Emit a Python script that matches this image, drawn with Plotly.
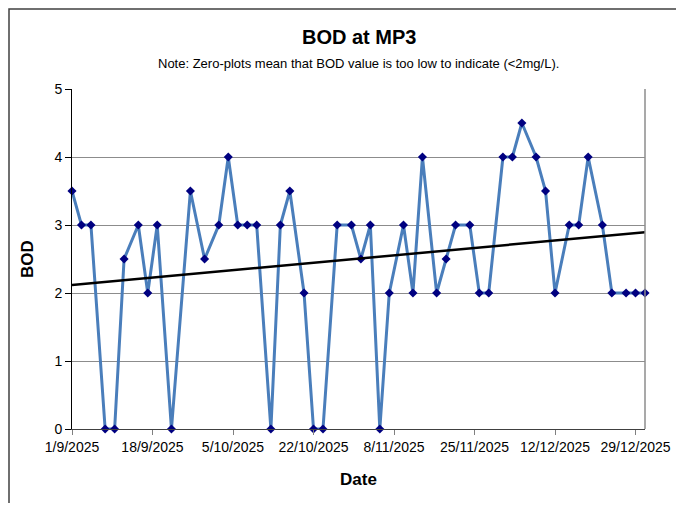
import numpy as np
import pandas as pd
import plotly.graph_objects as go

dates = ["2025-09-01", "2025-09-03", "2025-09-05", "2025-09-08", "2025-09-10", "2025-09-12",
         "2025-09-15", "2025-09-17", "2025-09-19", "2025-09-22", "2025-09-26", "2025-09-29",
         "2025-10-02", "2025-10-04", "2025-10-06", "2025-10-08", "2025-10-10", "2025-10-13",
         "2025-10-15", "2025-10-17", "2025-10-20", "2025-10-22", "2025-10-24", "2025-10-27",
         "2025-10-30", "2025-11-01", "2025-11-03", "2025-11-05", "2025-11-07", "2025-11-10",
         "2025-11-12", "2025-11-14", "2025-11-17", "2025-11-19", "2025-11-21", "2025-11-24",
         "2025-11-26", "2025-11-28", "2025-12-01", "2025-12-03", "2025-12-05", "2025-12-08",
         "2025-12-10", "2025-12-12", "2025-12-15", "2025-12-17", "2025-12-19", "2025-12-22",
         "2025-12-24", "2025-12-27", "2025-12-29", "2025-12-31"]
bod = [3.5, 3, 3, 0, 0, 2.5,
       3, 2, 3, 0, 3.5, 2.5,
       3, 4, 3, 3, 3, 0,
       3, 3.5, 2, 0, 0, 3,
       3, 2.5, 3, 0, 2, 3,
       2, 4, 2, 2.5, 3, 3,
       2, 2, 4, 4, 4.5, 4,
       3.5, 2, 3, 3, 4, 3,
       2, 2, 2, 2]

tick_vals = ["2025-09-01", "2025-09-18", "2025-10-05", "2025-10-22",
             "2025-11-08", "2025-11-25", "2025-12-12", "2025-12-29"]
tick_text = ["1/9/2025", "18/9/2025", "5/10/2025", "22/10/2025",
             "8/11/2025", "25/11/2025", "12/12/2025", "29/12/2025"]
y_ticks = [0, 1, 2, 3, 4, 5]

d = pd.to_datetime(dates)
t = (d - d[0]).days.values.astype(float)
slope, intercept = np.polyfit(t, np.array(bod), 1)
x_start = pd.Timestamp("2025-09-01")
x_end = pd.Timestamp("2025-12-31")
trend_x = [x_start, x_end]
trend_y = [intercept + slope * (xx - d[0]).days for xx in trend_x]

FONT = "Liberation Sans, Arial, sans-serif"

fig = go.Figure()
fig.add_trace(go.Scatter(
    x=d, y=bod, mode="lines+markers",
    line=dict(color="#4A7EBB", width=3),
    marker=dict(symbol="diamond", size=7, color="#000080"),
    cliponaxis=False, showlegend=False,
))
fig.add_trace(go.Scatter(
    x=trend_x, y=trend_y, mode="lines",
    line=dict(color="black", width=2.5),
    showlegend=False, hoverinfo="skip",
))

OFF = 8  # page body margin
W, H = 668, 495
L, T = 72 - OFF, 89 - OFF
R = W - (645 - OFF)
B = H - (429 - OFF)
pw, ph = W - L - R, H - T - B

def px(x):
    return (x - OFF - L) / pw

def py(y):
    return 1 + (T - (y - OFF)) / ph

fig.update_layout(
    width=W, height=H,
    margin=dict(l=L, r=R, t=T, b=B, autoexpand=False),
    paper_bgcolor="white", plot_bgcolor="white",
    font=dict(family=FONT, color="black"),
    xaxis=dict(
        type="date", range=[x_start, x_end], automargin=False,
        tickvals=tick_vals, ticktext=tick_text,
        tickfont=dict(size=14, family=FONT, color="black"),
        showgrid=False, zeroline=False,
        showline=True, linecolor="#404040", linewidth=1,
        ticks="outside", ticklen=5, tickcolor="#808080",
    ),
    yaxis=dict(
        range=[0, 5], tickvals=y_ticks, automargin=False,
        tickfont=dict(size=14, family=FONT, color="black"),
        showgrid=True, gridcolor="#8C8C8C", gridwidth=1,
        zeroline=False,
        showline=True, linecolor="black", linewidth=1,
        ticks="outside", ticklen=6, tickcolor="black",
    ),
    annotations=[
        dict(text="<b>BOD at MP3</b>", xref="paper", yref="paper",
             x=0.5, y=py(37), showarrow=False, yanchor="middle",
             font=dict(size=20, family=FONT, color="black")),
        dict(text="Note: Zero-plots mean that BOD value is too low to indicate (<2mg/L).",
             xref="paper", yref="paper", x=0.5, y=py(63), showarrow=False,
             yanchor="middle", font=dict(size=13, family=FONT, color="black")),
        dict(text="<b>Date</b>", xref="paper", yref="paper",
             x=0.5, y=py(480), showarrow=False, yanchor="middle",
             font=dict(size=17, family=FONT, color="black")),
        dict(text="<b>BOD</b>", xref="paper", yref="paper",
             x=px(27), y=py(259), showarrow=False, textangle=-90,
             xanchor="center", yanchor="middle",
             font=dict(size=17, family=FONT, color="black")),
    ],
    shapes=[
        dict(type="line", xref="paper", yref="paper", x0=1, x1=1, y0=0, y1=1,
             line=dict(color="#8C8C8C", width=1.5)),
        dict(type="rect", xref="paper", yref="paper",
             x0=px(9), x1=px(720), y0=py(560), y1=py(9),
             line=dict(color="#404040", width=1.5), layer="below"),
    ],
)

fig.write_html("out.html")
